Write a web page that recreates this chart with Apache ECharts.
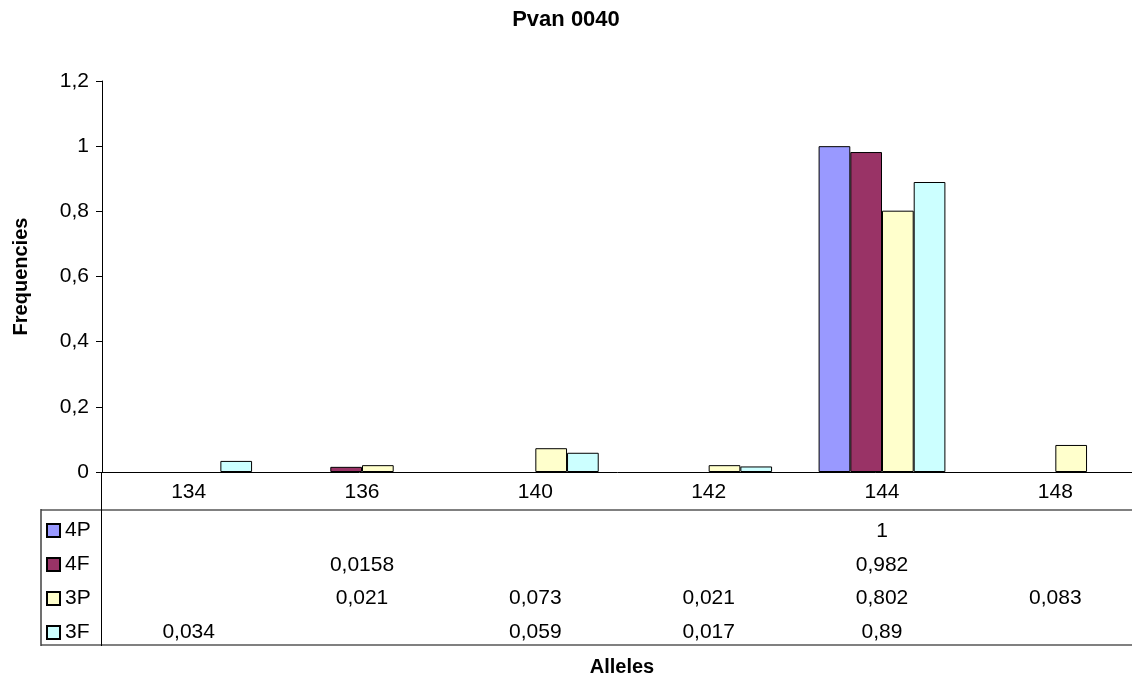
<!DOCTYPE html>
<html>
<head>
<meta charset="utf-8">
<script src="https://cdn.jsdelivr.net/npm/echarts@6/dist/echarts.min.js"></script>
<style>
html,body{margin:0;padding:0;background:#fff;}
#chart{width:1132px;height:677px;}
</style>
</head>
<body>
<div id="chart"></div>
<script>
const categories = ['134', '136', '140', '142', '144', '148'];
const seriesNames = ['4P', '4F', '3P', '3F'];
const s4P = [null, null, null, null, 1, null];
const s4F = [null, 0.0158, null, null, 0.982, null];
const s3P = [null, 0.021, 0.073, 0.021, 0.802, 0.083];
const s3F = [0.034, null, 0.059, 0.017, 0.89, null];
const yTicks = [0, 0.2, 0.4, 0.6, 0.8, 1, 1.2];

const allSeries = [s4P, s4F, s3P, s3F];
const colors = ['#9999FF', '#993366', '#FFFFCC', '#CCFFFF'];
const FONT = '"Liberation Sans", Arial, sans-serif';
const FS = 21;
const fmt = v => (v === null || v === undefined) ? '' : String(v).replace('.', ',');

const chart = echarts.init(document.getElementById('chart'), null, {renderer: 'canvas'});

const plotTop = 81, plotBottom = 472;
const rowCenters = [530, 564, 597, 631];

const xAxes = [{
  type: 'category',
  data: categories,
  gridIndex: 0,
  position: 'bottom',
  axisLine: {show: true, lineStyle: {color: '#000', width: 1}},
  axisTick: {show: false},
  axisLabel: {color: '#000', fontSize: FS, fontFamily: FONT, margin: 10, interval: 0},
  name: 'Alleles',
  nameLocation: 'middle',
  nameGap: 185,
  nameTextStyle: {color: '#000', fontSize: 20, fontWeight: 'bold', fontFamily: FONT}
}];
allSeries.forEach((arr, i) => {
  xAxes.push({
    type: 'category',
    data: categories,
    gridIndex: 0,
    position: 'bottom',
    offset: rowCenters[i] - plotBottom + 1,
    axisLine: {show: false},
    axisTick: {show: false},
    axisLabel: {
      color: '#000', fontSize: FS, fontFamily: FONT, margin: 0, interval: 0,
      verticalAlign: 'middle',
      formatter: (val, idx) => fmt(arr[idx])
    }
  });
});

const option = {
  backgroundColor: '#fff',
  animation: false,
  title: {
    text: 'Pvan 0040',
    left: 'center',
    top: 4,
    textStyle: {color: '#000', fontSize: 22, fontWeight: 'bold', fontFamily: FONT}
  },
  legend: {
    orient: 'vertical',
    left: 46,
    top: 520,
    padding: 0,
    itemWidth: 13,
    itemHeight: 13,
    itemGap: 13,
    icon: 'rect',
    data: seriesNames,
    textStyle: {color: '#000', fontSize: FS, fontFamily: FONT, lineHeight: 21, padding: [0, 0, 0, 0]}
  },
  grid: {left: 102, right: -10, top: plotTop, bottom: 677 - plotBottom, containLabel: false, outerBoundsMode: 'none'},
  xAxis: xAxes,
  yAxis: {
    type: 'value',
    min: 0,
    max: 1.2,
    interval: 0.2,
    axisLine: {show: true, lineStyle: {color: '#000', width: 1}},
    axisTick: {show: true, length: 6, inside: false, lineStyle: {color: '#000'}},
    splitLine: {show: false},
    axisLabel: {color: '#000', fontSize: FS, fontFamily: FONT, margin: 13,
      formatter: v => fmt(Math.round(v * 10) / 10)},
    name: 'Frequencies',
    nameLocation: 'middle',
    nameRotate: 90,
    nameGap: 71,
    nameTextStyle: {color: '#000', fontSize: 20, fontWeight: 'bold', fontFamily: FONT}
  },
  series: allSeries.map((arr, i) => ({
    name: seriesNames[i],
    type: 'bar',
    xAxisIndex: 0,
    data: arr,
    barWidth: 31.7,
    barGap: '0%',
    itemStyle: {color: colors[i], borderColor: '#000', borderWidth: 1}
  })),
  graphic: [
    {type: 'line', shape: {x1: 41, y1: 510, x2: 1132, y2: 510}, style: {stroke: '#808080', lineWidth: 2}, z: 10},
    {type: 'line', shape: {x1: 41, y1: 645, x2: 1132, y2: 645}, style: {stroke: '#808080', lineWidth: 2}, z: 10},
    {type: 'line', shape: {x1: 41, y1: 509, x2: 41, y2: 646}, style: {stroke: '#404040', lineWidth: 1.5}, z: 10},
    {type: 'line', shape: {x1: 101.5, y1: 472, x2: 101.5, y2: 646}, style: {stroke: '#000', lineWidth: 1}, z: 10}
  ]
};
chart.setOption(option);
</script>
</body>
</html>
